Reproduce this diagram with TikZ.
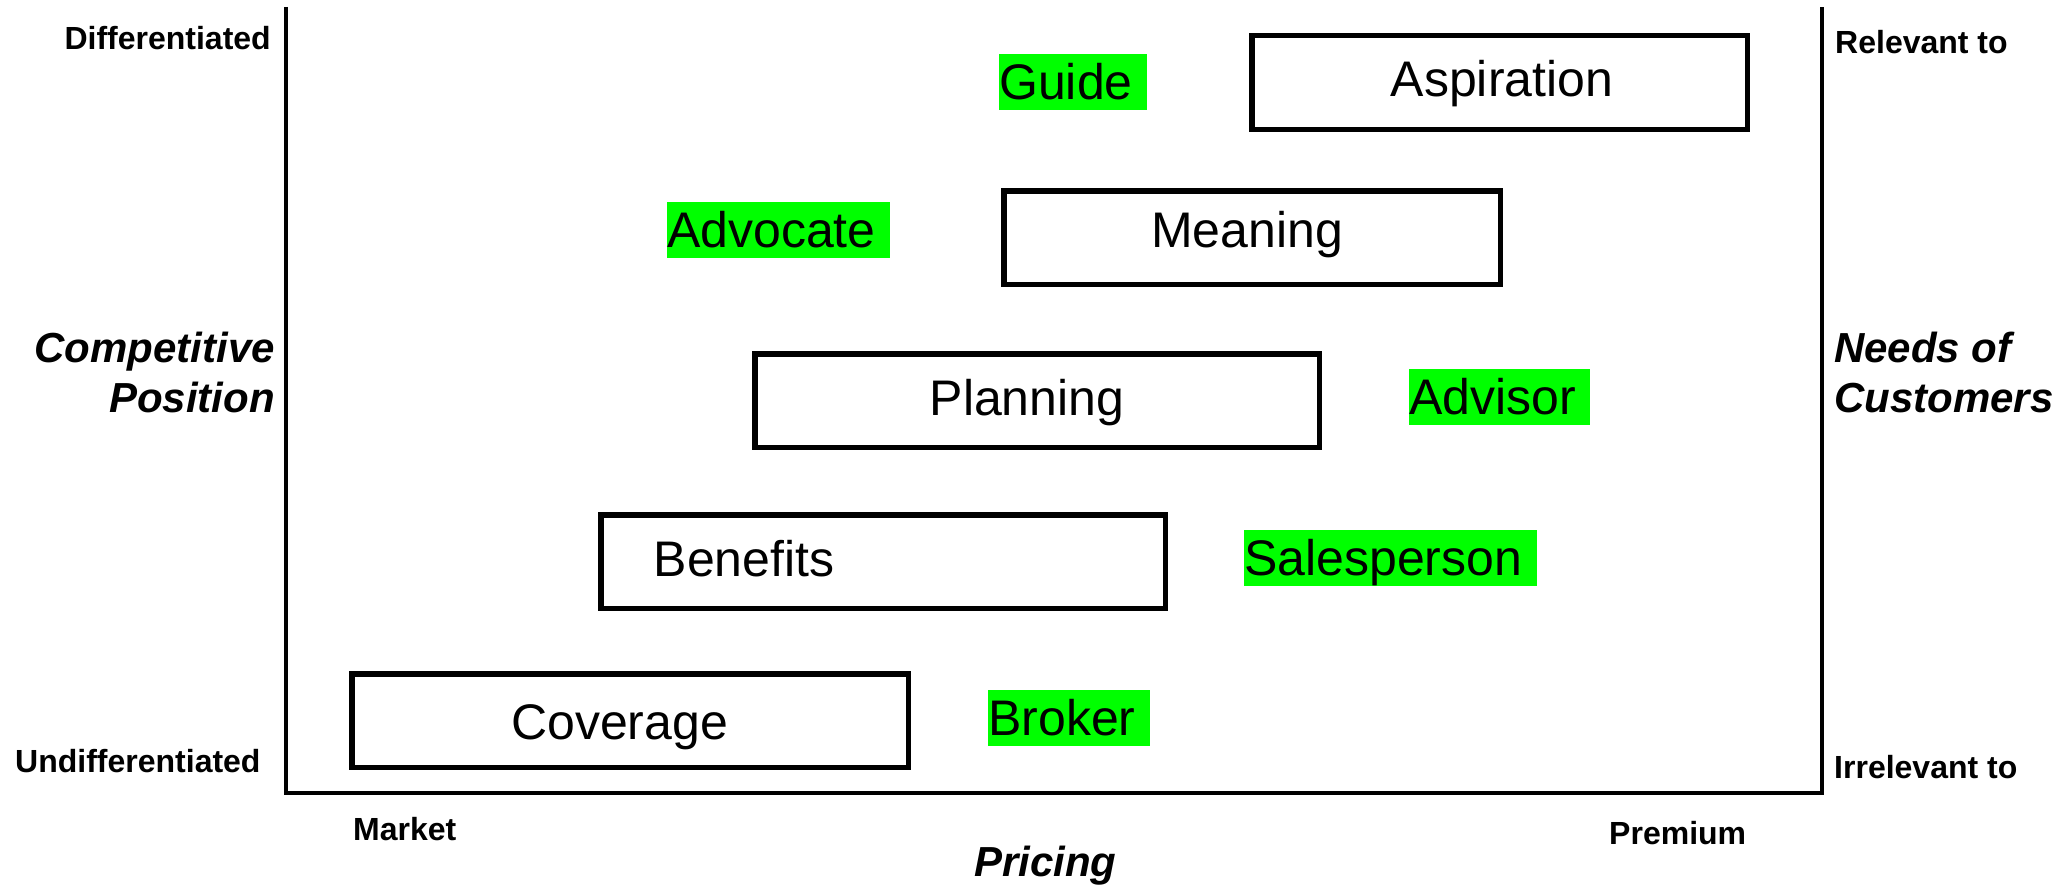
\documentclass[tikz,border=0pt]{standalone}
\usepackage{fontspec}
\setmainfont{Liberation Sans}
\definecolor{tagfill}{HTML}{00FF00}
\begin{document}
\begin{tikzpicture}[x=1pt,y=-1pt,
  box/.style={draw, line width=5.5pt, minimum width=#1, minimum height=93.5pt, inner sep=0pt, outer sep=0pt},
  big/.style={font=\fontsize{50}{60}\selectfont, inner sep=0pt, anchor=base},
  tag/.style={fill=tagfill, font=\fontsize{50}{60}\selectfont, inner sep=0pt, anchor=north west,
              text height=45.5pt, text depth=10pt, text width=#1, align=left},
  ends/.style={font=\bfseries\fontsize{32}{38}\selectfont, inner sep=0pt},
  title/.style={font=\bfseries\itshape\fontsize{42}{50}\selectfont, inner sep=0pt},
  axis/.style={line width=4.5pt, line join=miter}]
\useasboundingbox (0,0) rectangle (2069,891);

% axes
\coordinate (tl) at (286,7);
\coordinate (bl) at (286,793);
\coordinate (br) at (1822,793);
\coordinate (tr) at (1822,7);
\draw[axis] (tl) -- (bl) -- (br) -- (tr);

% boxes
\node[box=556.5pt] (cov) at (630,720.5) {};
\node[box=564.5pt] (ben) at (883,561.5) {};
\node[box=564.5pt] (pla) at (1037,400.5) {};
\node[box=496.5pt] (mea) at (1252,237.5) {};
\node[box=495.5pt] (asp) at (1499.5,82.5) {};

\node[big] (covt) at (619.5,739) {Coverage};
\node[big] (bent) at (744,576) {Benefits};
\node[big] (plat) at (1027,415) {Planning};
\node[big] (meat) at (1247,247) {Meaning};
\node[big] (aspt) at (1502,96) {Aspiration};

% green tags
\node[tag=148pt] (guide) at (999,54) {Guide};
\node[tag=223pt] (advoc) at (667,202) {Advocate};
\node[tag=181pt] (advis) at (1409,369) {Advisor};
\node[tag=293pt] (sales) at (1244,530) {Salesperson};
\node[tag=162pt] (broker) at (988,690) {Broker};

% axis end labels
\node[ends, anchor=base east] (diff) at (271,50) {Differentiated};
\node[ends, anchor=base west] (undiff) at (15,772) {Undifferentiated};
\node[ends, anchor=base west] (rel) at (1835,54) {Relevant to};
\node[ends, anchor=base west] (irrel) at (1834,778) {Irrelevant to};
\node[ends, anchor=base west] (mkt) at (353,840) {Market};
\node[ends, anchor=base west] (prem) at (1609,844) {Premium};

% axis titles
\node[title, anchor=base east] (comp1) at (275,362) {Competitive};
\node[title, anchor=base east] (comp2) at (275,412) {Position};
\node[title, anchor=base west] (need1) at (1834,362) {Needs of};
\node[title, anchor=base west] (need2) at (1834,412) {Customers};
\node[title, anchor=base west] (price) at (974,876) {Pricing};
\end{tikzpicture}
\end{document}
